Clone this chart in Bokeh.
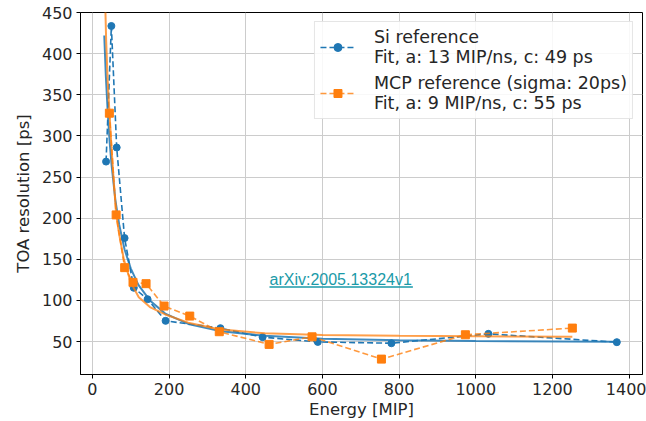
from bokeh.plotting import figure
from bokeh.models import Legend, LegendItem, FixedTicker, Label, BoxAnnotation
from bokeh.embed import file_html
from bokeh.resources import INLINE

# Si reference measurements
si_energy = [35.7, 49.5, 63.4, 84, 108, 144, 191, 334, 444, 588, 780, 1033, 1368]
si_res = [268.8, 433.6, 285.9, 175.8, 115.4, 101.5, 75.2, 66.3, 55.4, 49.6, 48.0, 59.4, 49.3]

# MCP reference measurements
mcp_energy = [44.3, 62, 84.2, 106, 140, 187, 254, 331, 461, 573, 754, 973, 1252]
mcp_res = [327.6, 204, 139.9, 122, 120.4, 93.2, 81, 62, 46.6, 55.8, 28.7, 58.3, 66.4]

# Fit curves
si_fit_energy = [31, 35, 40, 45, 50, 60, 70, 84, 100, 120, 150, 190, 250, 330, 450, 600, 800, 1000, 1368]
si_fit_res = [422, 374, 329, 293, 265, 222, 192, 162, 139, 119, 100, 84, 71.5, 63, 57, 53.6, 51.6, 50.7, 49.9]

mcp_fit_energy = [33, 36, 40, 45, 50, 55, 62, 70, 82, 100, 121, 150, 190, 250, 330, 450, 600, 800, 1000, 1252]
mcp_fit_res = [470, 415, 365, 325, 285, 250, 205, 180, 150, 122, 104, 92, 83, 73, 65, 60, 58, 57, 56.5, 56]

x_ticks = [0, 200, 400, 600, 800, 1000, 1200, 1400]
y_ticks = [50, 100, 150, 200, 250, 300, 350, 400, 450]

si_label = "Si reference\nFit, a: 13 MIP/ns, c: 49 ps"
mcp_label = "MCP reference (sigma: 20ps)\nFit, a: 9 MIP/ns, c: 55 ps"
link_text = "arXiv:2005.13324v1"

BLUE = "#1f77b4"
ORANGE = "#ff7f0e"
LINK = "#1a9aa8"
FONT = "DejaVu Sans"
TXT = "#262626"

p = figure(width=646, height=421, x_range=(-31, 1435), y_range=(10, 450),
           output_backend="svg", toolbar_location=None,
           min_border_left=80, min_border_right=4, min_border_top=12, min_border_bottom=47)

p.outline_line_color = "black"
p.outline_line_width = 1
p.background_fill_color = "white"
p.border_fill_color = "white"

for ax in (p.xaxis, p.yaxis):
    ax.axis_line_color = "black"
    ax.major_tick_line_color = "black"
    ax.major_tick_out = 4
    ax.major_tick_in = 0
    ax.minor_tick_line_color = None
    ax.major_label_text_font = FONT
    ax.major_label_text_font_size = "16px"
    ax.major_label_text_color = TXT
    ax.axis_label_text_font = FONT
    ax.axis_label_text_font_size = "16.5px"
    ax.axis_label_text_font_style = "normal"
    ax.axis_label_text_color = TXT
    ax.major_label_standoff = 4

p.xaxis.ticker = FixedTicker(ticks=x_ticks)
p.yaxis.ticker = FixedTicker(ticks=y_ticks)
p.xaxis.axis_label = "Energy [MIP]"
p.yaxis.axis_label = "TOA resolution [ps]"
p.xaxis.axis_label_standoff = 2
p.yaxis.axis_label_standoff = 6

p.xgrid.ticker = FixedTicker(ticks=x_ticks)
p.ygrid.ticker = FixedTicker(ticks=y_ticks)
for g in (p.xgrid, p.ygrid):
    g.grid_line_color = "#cccccc"
    g.grid_line_width = 1

# data lines
si_line = p.line(si_energy, si_res, line_color=BLUE, line_width=1.6, line_dash="6 3")
si_pts = p.scatter(si_energy, si_res, marker="circle", size=7, fill_color=BLUE, line_color=BLUE)
si_fit = p.line(si_fit_energy, si_fit_res, line_color=BLUE, line_width=2, line_alpha=0.85)

mcp_line = p.line(mcp_energy, mcp_res, line_color=ORANGE, line_width=1.6, line_dash="6 3", line_alpha=0.8)
mcp_pts = p.scatter(mcp_energy, mcp_res, marker="square", size=8, fill_color=ORANGE, line_color=ORANGE)
mcp_fit = p.line(mcp_fit_energy, mcp_fit_res, line_color=ORANGE, line_width=2, line_alpha=0.75)

legend = Legend(items=[LegendItem(label=si_label, renderers=[si_line, si_pts]),
                       LegendItem(label=mcp_label, renderers=[mcp_line, mcp_pts])],
                location="top_right")
legend.label_text_font = FONT
legend.label_text_font_size = "17.5px"
legend.label_text_color = TXT
legend.label_text_line_height = 1.1
legend.border_line_color = "#cccccc"
legend.border_line_width = 1
legend.background_fill_alpha = 0.85
legend.glyph_width = 35
legend.label_standoff = 19
legend.padding = 5
legend.spacing = 6
legend.margin = 9
p.add_layout(legend)

# arXiv link text with underline
p.add_layout(Label(x=462, y=126, text=link_text, text_font="Liberation Sans",
                   text_font_size="16px", text_color=LINK, text_baseline="alphabetic"))
p.add_layout(BoxAnnotation(left=462, right=836, bottom=115.4, top=117.2,
                           fill_color=LINK, fill_alpha=1, line_color=None))

open("out.html", "w").write(file_html(p, INLINE))
